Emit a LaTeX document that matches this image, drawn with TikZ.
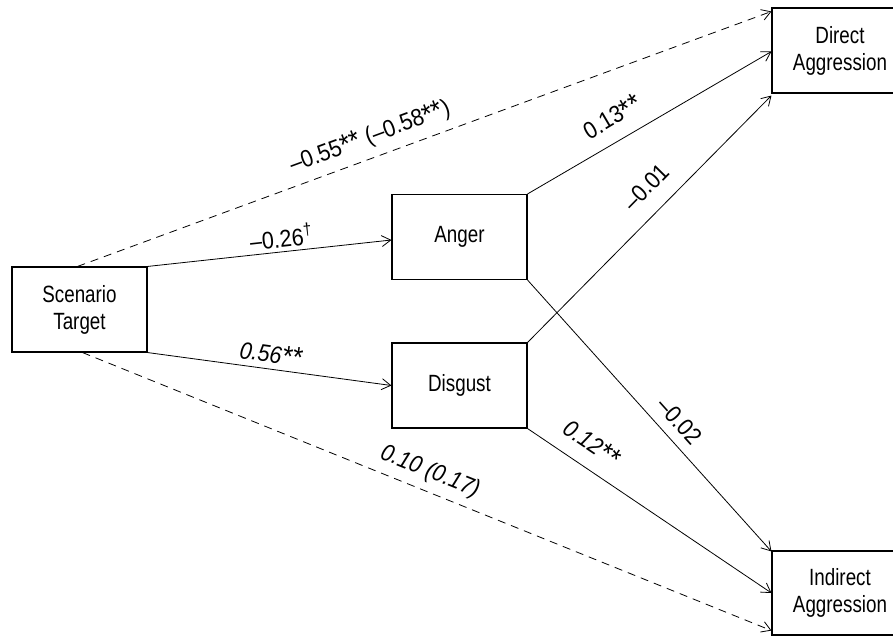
\documentclass[tikz,border=0pt]{standalone}
\usepackage{fontspec}
\setmainfont{Liberation Sans}[FakeStretch=0.8]
\newfontfamily\labfont{Liberation Sans}[FakeStretch=0.9]
\newcommand\starmark{\raisebox{-1.5pt}{\fontsize{29}{29}\selectfont*}}
\usetikzlibrary{arrows.meta,calc}
\begin{document}
\begin{tikzpicture}[x=1pt,y=-1pt,
  box/.style={draw, line width=1.1pt, minimum width=135pt, minimum height=85pt, inner sep=0pt, align=center, font=\fontsize{23.5}{27}\selectfont},
  conn/.style={line width=0.8pt, -{Straight Barb[length=9pt,width=11pt,line width=0.8pt]}},
  dconn/.style={conn, dash pattern=on 8pt off 6pt},
  lab/.style={inner sep=0pt, font=\labfont\fontsize{24}{26}\selectfont},
  ilab/.style={inner sep=0pt, font=\labfont\fontsize{24}{26}\selectfont\itshape}
]
\useasboundingbox (0,0) rectangle (893,636);
\clip (0,0) rectangle (893,636);
\node[box] (scen) at (79.5,309.5) {Scenario\\Target};
\node[box] (anger) at (459.5,237) {Anger};
\node[box] (disg) at (459.5,385.5) {Disgust};
\node[box, minimum width=136pt] (direct) at (840,50.5) {Direct\\Aggression};
\node[box, minimum width=136pt, minimum height=84pt] (indirect) at (840,593) {Indirect\\Aggression};

\draw[dconn] ([xshift=-2pt]scen.north) -- ([yshift=-4pt]direct.north west);
\draw[conn] (scen.north east) -- ([yshift=-3pt]anger.west);
\draw[conn] (scen.south east) -- (disg.west);
\draw[dconn] ([xshift=3pt]scen.south) -- ([yshift=5pt]indirect.south west);
\draw[conn] (anger.north east) -- ([yshift=-1pt]direct.west);
\draw[conn] (disg.north east) -- ([yshift=-2pt]direct.south west);
\draw[conn] (anger.south east) -- ([yshift=-1pt]indirect.north west);
\draw[conn] (disg.south east) -- (indirect.west);

\node[lab, rotate=20.2] (l1) at (370,137) {–0.55\starmark\starmark{} (–0.58\starmark\starmark)};
\node[lab, rotate=6.3] (l2) at (281,237) {–0.26\textsuperscript{†}};
\node[ilab, rotate=-7.8] (l3) at (271,354) {0.56\starmark\starmark};
\node[ilab, rotate=-21.9] (l4) at (430,472) {0.10 (0.17)};
\node[lab, rotate=30.5] (l5) at (612,117) {0.13\starmark\starmark};
\node[lab, rotate=45.6] (l6) at (646,187) {–0.01};
\node[lab, rotate=-48] (l7) at (680,421) {–0.02};
\node[ilab, rotate=-34] (l8) at (592,443) {0.12\starmark\starmark};
\end{tikzpicture}
\end{document}
